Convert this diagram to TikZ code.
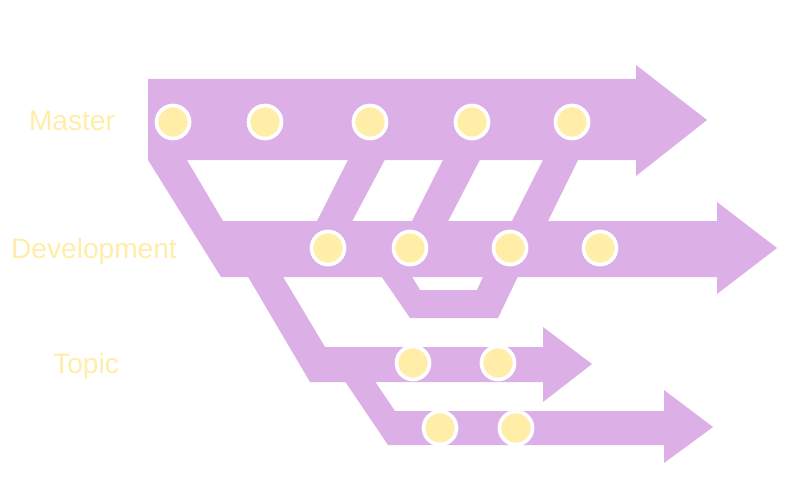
\documentclass[tikz,border=0pt]{standalone}
\usepackage{fontspec}
\setmainfont{Liberation Sans}
\usepackage{tikz}
\usetikzlibrary{positioning}
\definecolor{branchpurple}{RGB}{220,175,230}
\definecolor{commityellow}{RGB}{255,237,168}
\tikzset{
branch/.style = {
    fill=branchpurple,
    draw=none
  },
commit/.style = {
    circle,
    draw=white,
    line width=2.1pt,
    fill=commityellow,
    inner sep=0pt,
    minimum size=6.6mm
  },
branch label/.style = {
    text=commityellow,
    font=\fontsize{16}{18}\selectfont,
    inner sep=0pt
  }
}
\begin{document}
\begin{tikzpicture}[x=0.02cm, y=-0.02cm]
\useasboundingbox (0,0) rectangle (800,500);
% merges from development back up to master
\fill[branch] (312,231) -- (353,150) -- (390,150) -- (347,231) -- cycle;
\fill[branch] (407,231) -- (448,150) -- (485,150) -- (443,231) -- cycle;
\fill[branch] (507,231) -- (548,150) -- (583,150) -- (543,231) -- cycle;
% short detour below development
\fill[branch, even odd rule] (377,270) -- (410,318) -- (498,318) -- (521,270) -- cycle
   (408,270) -- (420,290) -- (477,290) -- (486,270) -- cycle;
% master
\fill[branch] (148,79) -- (636,79) -- (636,65) -- (707,120) -- (636,176) -- (636,160) -- (148,160) -- cycle;
% development
\fill[branch] (148,150) -- (181,150) -- (223,221) -- (717,221) -- (717,202) -- (777,248)
   -- (717,294) -- (717,277) -- (221,277) -- (148,160) -- cycle;
% topic branches
\fill[branch] (244,270) -- (279,270) -- (325,347) -- (543,347) -- (543,327) -- (592,364)
   -- (543,402) -- (543,382) -- (310,382) -- cycle;
\fill[branch] (340,374) -- (370,374) -- (395,411) -- (664,411) -- (664,390) -- (713,427)
   -- (664,463) -- (664,445) -- (388,445) -- cycle;
% commits
\foreach \name/\x/\y in {m1/173/122, m2/265/122, m3/370/122, m4/472/122, m5/572/122,
   d1/328/248, d2/410/248, d3/510/248, d4/600/248,
   t1/413/363, t2/498/363, u1/440/428, u2/516/428} {
   \node[commit] (\name) at (\x,\y) {};
}
% labels
\node[branch label] (master) at (72,121) {Master};
\node[branch label] (development) at (94,251) {Development};
\node[branch label] (topic) at (86,366) {Topic};
\end{tikzpicture}
\end{document}
